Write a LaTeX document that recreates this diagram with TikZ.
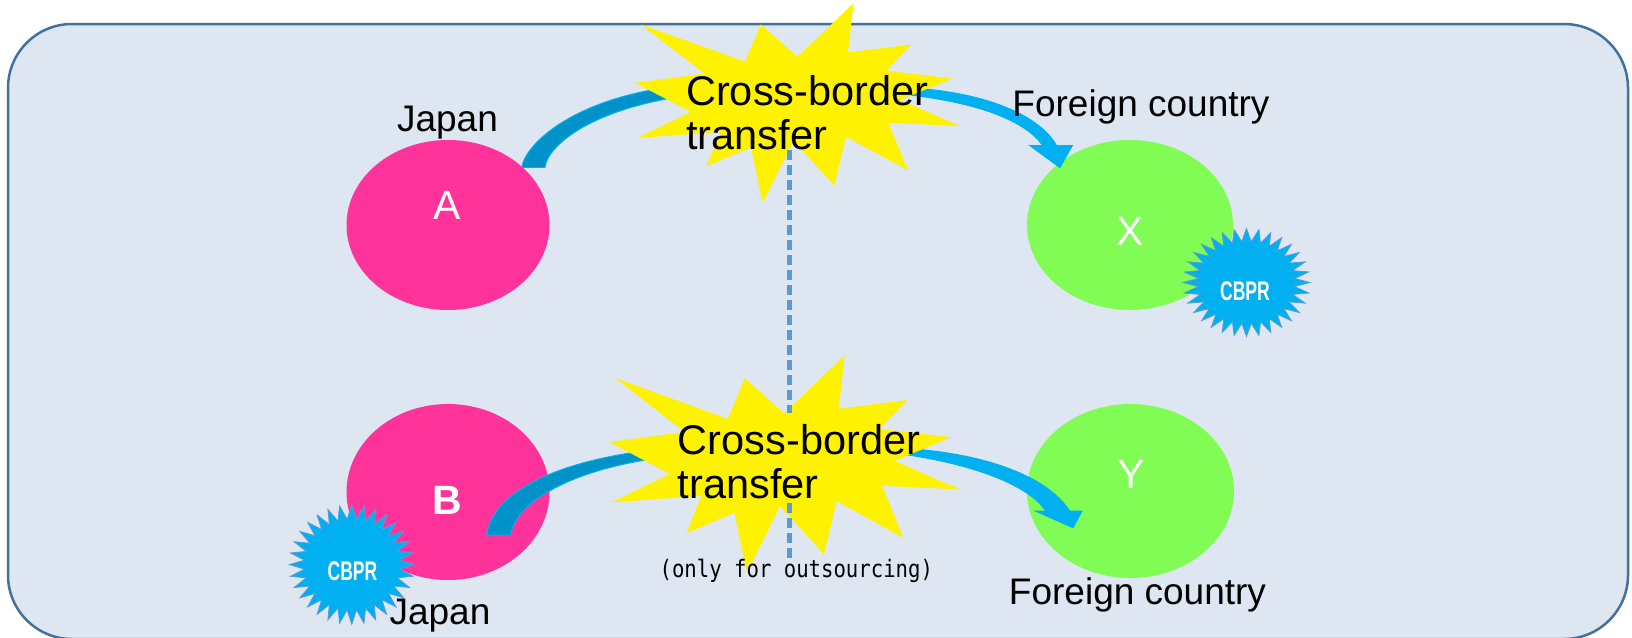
\documentclass[tikz,border=0pt]{standalone}
\usepackage{fontspec}
\setmainfont{Liberation Sans}
\newfontfamily\notefont{DejaVu Sans Mono}
\usepackage{graphicx}
\usepackage{xcolor}
\usepackage{tikz}
\usetikzlibrary{shapes.geometric}

\definecolor{boxfill}{RGB}{222,230,242}
\definecolor{boxline}{RGB}{65,113,156}
\definecolor{firmpink}{RGB}{255,51,153}
\definecolor{firmgreen}{RGB}{128,252,85}
\definecolor{flowblue}{RGB}{0,176,240}
\definecolor{flowdark}{RGB}{0,146,200}
\definecolor{splitblue}{RGB}{91,155,213}

\newcommand{\explosion}[4]{%
  \begin{scope}[shift={(#1,#2)}, xscale=#3/100, yscale=#4/100]
    \fill[yellow] (50,26.85) -- (67.23,0) -- (65.53,24.65) -- (85.09,20.63)
      -- (77.32,33.87) -- (97.67,37.67) -- (81.51,48.50) -- (100,61.53)
      -- (77.95,59.92) -- (84.00,83.77) -- (64.91,66.93) -- (61.33,91.38)
      -- (48.76,69.14) -- (39.28,100) -- (35.72,72.35) -- (22.05,81.56)
      -- (26.24,64.52) -- (0.63,67.53) -- (17.23,54.51) -- (0,39.88)
      -- (21.42,35.26) -- (1.71,10.63) -- (33.85,29.26) -- (38.67,10.63) -- cycle;
  \end{scope}}

\newcommand{\cbprseal}[4]{%
  \filldraw[cbpr] ({#1+#3},#2) \foreach \k in {1,...,63}{
    -- ({#1+#3*(1-0.24*mod(\k,2))*cos(\k*5.625)},{#2+#4*(1-0.24*mod(\k,2))*sin(\k*5.625)})
  } -- cycle;}

\begin{document}
\begin{tikzpicture}[x=1pt, y=-1pt,
    firm/.style={ellipse, minimum width=203pt, minimum height=170pt, inner sep=0pt},
    letter/.style={text=white, inner sep=0pt, font=\fontsize{41}{41}\selectfont},
    country/.style={anchor=base, inner sep=0pt, font=\fontsize{37}{37}\selectfont},
    transfer/.style={align=left, anchor=west, inner sep=0pt,
      font=\fontsize{41.5}{44.5}\selectfont},
    band/.style={fill=flowdark, draw=flowblue, line width=1pt},
    arrowband/.style={fill=flowblue},
    splitline/.style={draw=splitblue, line width=5pt, dash pattern=on 10pt off 5pt},
    cbpr/.style={fill=flowblue, draw=splitblue, line width=0.8pt},
    cbprtext/.style={text=white, inner sep=0pt, font=\bfseries\fontsize{27}{27}\selectfont},
    note/.style={anchor=base, inner sep=0pt, font=\notefont\fontsize{24}{24}\selectfont}]
  \useasboundingbox (0,0) rectangle (1632,637);
  \draw[boxline, fill=boxfill, line width=2.5pt, rounded corners=64pt]
    (8,24) rectangle (1628,639);

  \node[firm, fill=firmpink] (A) at (448,225) {};
  \node[firm, fill=firmpink, minimum height=176pt] (B) at (448,492) {};
  \node[firm, fill=firmgreen, minimum width=206pt] (X) at (1130,225) {};
  \node[firm, fill=firmgreen, minimum width=207pt, minimum height=174pt] (Y) at (1130.5,491) {};
  \node[letter] (lblA) at (447.5,205) {A};
  \node[letter, font=\bfseries\fontsize{41}{41}\selectfont] (lblB) at (447.5,500) {B};
  \node[letter] (lblX) at (1130.3,231) {X};
  \node[letter] (lblY) at (1130.8,474.5) {Y};

  \filldraw[band] (521.7,167.3) .. controls (527,140) and (580,98) .. (672,87)
    -- (672,98) .. controls (590,112) and (548,145) .. (545,167.3) -- cycle;
  \fill[arrowband] (905,87) .. controls (985,91) and (1040,115) .. (1056.7,145)
    -- (1073.3,145) -- (1060,168.3) -- (1028.3,145) -- (1041.7,145)
    .. controls (1025,122) and (980,103) .. (905,95) -- cycle;
  \filldraw[band] (486.7,535) .. controls (492,495) and (550,462) .. (652,450)
    -- (652,459) .. controls (565,472) and (514,505) .. (510.7,535) -- cycle;
  \fill[arrowband] (905,448) .. controls (975,452) and (1045,472) .. (1070,510.7)
    -- (1082.7,510.7) -- (1073.3,528.3) -- (1033.3,510.7) -- (1045,510.7)
    .. controls (1030,488) and (980,466) .. (905,455) -- cycle;

  \explosion{635}{3.3}{325}{199.4}
  \explosion{609.5}{355}{349.8}{218.3}

  \draw[splitline] (789.3,150) -- (789.3,413);
  \draw[splitline] (789.3,503) -- (789.3,562);

  \node[transfer] (xferA) at (686,112.5) {Cross-border\\transfer};
  \node[transfer] (xferB) at (677.7,461.5) {Cross-border\\transfer};
  \node[note] (outsrc) at (796.3,577.3) {\scalebox{0.86}[1]{(only for outsourcing)}};

  \node[country] (jpA) at (447.5,131) {Japan};
  \node[country] (fcX) at (1141,116) {Foreign country};
  \node[country] (jpB) at (440,624) {Japan};
  \node[country] (fcY) at (1137.5,604) {Foreign country};

  \cbprseal{1246.5}{282.5}{63.5}{54}
  \cbprseal{351.8}{564.6}{62.5}{59.8}
  \node[cbprtext] (cbprX) at (1245,291.7) {\scalebox{0.65}[1]{CBPR}};
  \node[cbprtext] (cbprB) at (352.5,571.5) {\scalebox{0.65}[1]{CBPR}};
\end{tikzpicture}
\end{document}
